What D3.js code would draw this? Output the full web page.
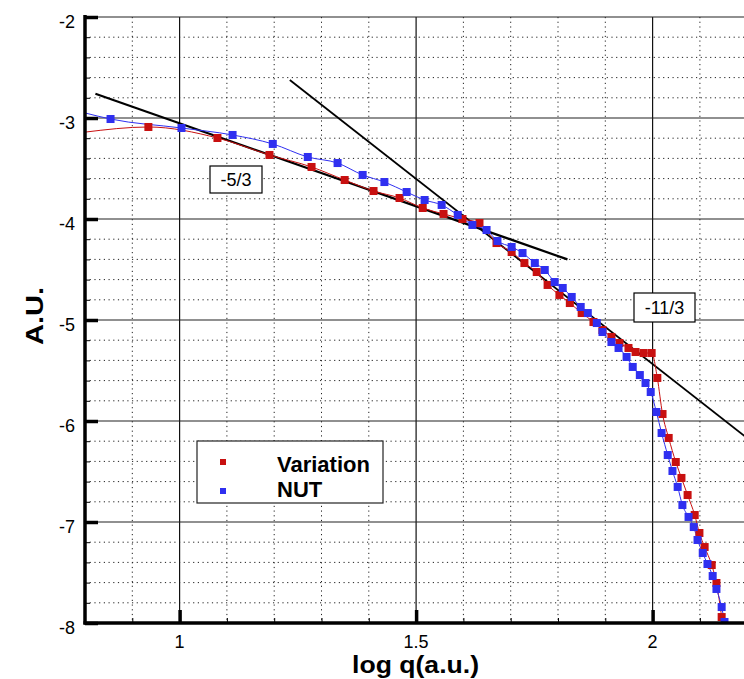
<!DOCTYPE html>
<html>
<head>
<meta charset="utf-8">
<script src="https://cdn.jsdelivr.net/npm/d3@7"></script>
<style>
  html, body { margin: 0; padding: 0; background: #fff; }
  svg { display: block; }
  text { font-family: "Liberation Sans", Arial, Helvetica, sans-serif; }
</style>
</head>
<body>
<svg id="chart" width="744" height="679"></svg>
<script>
// ---------------- data ----------------
const xMajorTicks = [1, 1.5, 2];
const xTickLabels = ["1", "1.5", "2"];
const yMajorTicks = [-8, -7, -6, -5, -4, -3, -2];
const yTickLabels = ["-8", "-7", "-6", "-5", "-4", "-3", "-2"];
const xMinorTicks = [0.9, 1.1, 1.2, 1.3, 1.4, 1.6, 1.7, 1.8, 1.9, 2.1];
const yMinorTicks = [-7.8, -7.6, -7.4, -7.2, -6.8, -6.6, -6.4, -6.2, -5.8, -5.6, -5.4, -5.2,
                     -4.8, -4.6, -4.4, -4.2, -3.8, -3.6, -3.4, -3.2, -2.8, -2.6, -2.4, -2.2];

const seriesNames = ["Variation", "NUT"];

// Variation (red)
const varCurveStart = [0.80, -3.14];
const varX = [0.934, 1.080, 1.190, 1.279, 1.349, 1.410, 1.465, 1.514, 1.558, 1.598, 1.634,
              1.670, 1.702, 1.729, 1.755, 1.778, 1.803, 1.825, 1.850, 1.875, 1.894, 1.913,
              1.930, 1.949, 1.964, 1.981, 1.998, 2.010, 2.021, 2.034, 2.049, 2.061, 2.074,
              2.089, 2.099, 2.110, 2.125, 2.135, 2.146];
const varY = [-3.089, -3.198, -3.366, -3.485, -3.614, -3.723, -3.792, -3.891, -3.950, -4.000, -4.040,
              -4.238, -4.327, -4.436, -4.525, -4.653, -4.752, -4.832, -4.931, -5.020, -5.099, -5.168,
              -5.228, -5.277, -5.317, -5.327, -5.327, -5.574, -5.931, -6.168, -6.406, -6.564, -6.733,
              -6.931, -7.109, -7.248, -7.426, -7.604, -7.941];

// NUT (blue)
const nutCurveStart = [0.80, -2.95];
const nutX = [0.854, 1.004, 1.112, 1.197, 1.271, 1.334, 1.387, 1.433, 1.480, 1.518, 1.554,
              1.588, 1.619, 1.649, 1.672, 1.702, 1.725, 1.751, 1.772, 1.793, 1.810, 1.829,
              1.848, 1.863, 1.882, 1.894, 1.913, 1.928, 1.945, 1.958, 1.973, 1.985, 1.996,
              2.008, 2.019, 2.032, 2.042, 2.053, 2.063, 2.076, 2.087, 2.095, 2.106, 2.116,
              2.127, 2.135, 2.146, 2.152];
const nutY = [-3.010, -3.099, -3.168, -3.257, -3.386, -3.446, -3.564, -3.634, -3.733, -3.812, -3.861,
              -3.960, -4.059, -4.109, -4.218, -4.277, -4.337, -4.436, -4.505, -4.624, -4.683, -4.772,
              -4.871, -4.931, -5.030, -5.119, -5.218, -5.277, -5.366, -5.465, -5.545, -5.624, -5.713,
              -5.911, -6.119, -6.337, -6.495, -6.653, -6.832, -6.950, -7.050, -7.178, -7.307, -7.416,
              -7.535, -7.663, -7.842, -7.990];

// slope reference lines
const slopeLineA = { label: "-5/3",  x: [0.822, 1.820], y: [-2.760, -4.400] };
const slopeLineB = { label: "-11/3", x: [1.233, 2.250], y: [-2.624, -6.353] };

// ---------------- drawing ----------------
const svg = d3.select("#chart");
const L = 85, T = 17, B = 623, R = 85 + 1.4 * 473;
const x = d3.scaleLinear().domain([0.8, 2.2]).range([L, R]);
const y = d3.scaleLinear().domain([-8, -2]).range([B, T]);

svg.append("defs").append("clipPath").attr("id", "plotclip")
  .append("rect").attr("x", L).attr("y", T - 1).attr("width", R - L).attr("height", B - T + 1);

const grid = svg.append("g");
// minor dotted grid
grid.selectAll("line.mx").data(xMinorTicks).join("line")
  .attr("x1", d => x(d)).attr("x2", d => x(d)).attr("y1", T).attr("y2", B)
  .attr("stroke", "#222").attr("stroke-width", 1).attr("stroke-dasharray", "1.2,3.5");
grid.selectAll("line.my").data(yMinorTicks).join("line")
  .attr("y1", d => y(d)).attr("y2", d => y(d)).attr("x1", L).attr("x2", R)
  .attr("stroke", "#222").attr("stroke-width", 1).attr("stroke-dasharray", "1.2,3.5");
// major grid
grid.selectAll("line.Mx").data(xMajorTicks).join("line")
  .attr("x1", d => x(d)).attr("x2", d => x(d)).attr("y1", T).attr("y2", B)
  .attr("stroke", "#111").attr("stroke-width", 1.2);
grid.selectAll("line.My").data(yMajorTicks).join("line")
  .attr("y1", d => y(d)).attr("y2", d => y(d)).attr("x1", L).attr("x2", R)
  .attr("stroke", "#222").attr("stroke-width", 1.2);

// axes: ticks inside
const yAxisMajor = d3.axisRight(y).tickValues(yMajorTicks).tickSize(13).tickFormat("");
const yAxisMinor = d3.axisRight(y).tickValues(yMinorTicks).tickSize(5).tickFormat("");
const xAxisMajor = d3.axisTop(x).tickValues(xMajorTicks).tickSize(13).tickFormat("");
const xAxisMinor = d3.axisTop(x).tickValues(xMinorTicks).tickSize(5).tickFormat("");

const gyM = svg.append("g").attr("transform", `translate(${L},0)`).call(yAxisMajor);
gyM.selectAll(".tick line").attr("stroke", "#000").attr("stroke-width", 3.5);
gyM.select(".domain").remove();
const gym = svg.append("g").attr("transform", `translate(${L},0)`).call(yAxisMinor);
gym.selectAll(".tick line").attr("stroke", "#000").attr("stroke-width", 1);
gym.select(".domain").remove();
const gxM = svg.append("g").attr("transform", `translate(0,${B})`).call(xAxisMajor);
gxM.selectAll(".tick line").attr("stroke", "#000").attr("stroke-width", 3.5);
gxM.select(".domain").remove();
const gxm = svg.append("g").attr("transform", `translate(0,${B})`).call(xAxisMinor);
gxm.selectAll(".tick line").attr("stroke", "#000").attr("stroke-width", 1);
gxm.select(".domain").remove();

// tick labels
svg.append("g").selectAll("text").data(yMajorTicks).join("text")
  .attr("x", 75).attr("y", d => y(d) + 11)
  .attr("text-anchor", "end").attr("font-size", 18).attr("fill", "#000")
  .text((d, i) => yTickLabels[i]);
svg.append("g").selectAll("text").data(xMajorTicks).join("text")
  .attr("x", d => x(d)).attr("y", 648)
  .attr("text-anchor", "middle").attr("font-size", 18).attr("fill", "#000")
  .text((d, i) => xTickLabels[i]);

// axis titles
svg.append("text").attr("x", 352).attr("y", 673)
  .attr("textLength", 127).attr("lengthAdjust", "spacingAndGlyphs")
  .attr("font-size", 23).attr("font-weight", "bold").text("log q(a.u.)");
svg.append("text").attr("transform", "translate(43,345) rotate(-90)")
  .attr("textLength", 58).attr("lengthAdjust", "spacingAndGlyphs")
  .attr("font-size", 23).attr("font-weight", "bold").text("A.U.");

// plot contents
const plot = svg.append("g").attr("clip-path", "url(#plotclip)");

// slope lines
[slopeLineA, slopeLineB].forEach((s, i) => {
  plot.append("line")
    .attr("x1", x(s.x[0])).attr("y1", y(s.y[0]))
    .attr("x2", x(s.x[1])).attr("y2", y(s.y[1]))
    .attr("stroke", "#000").attr("stroke-width", i === 0 ? 2.2 : 1.8);
});

const redC = "#c81010", blueC = "#2f2ff0";
const series = [
  { start: varCurveStart, xs: varX, ys: varY, color: redC },
  { start: nutCurveStart, xs: nutX, ys: nutY, color: blueC }
];
const lineGen = d3.line().x(d => x(d[0])).y(d => y(d[1])).curve(d3.curveMonotoneX);
series.forEach(s => {
  const pts = [s.start].concat(s.xs.map((v, i) => [v, s.ys[i]]));
  plot.append("path").datum(pts).attr("d", lineGen)
    .attr("fill", "none").attr("stroke", s.color).attr("stroke-width", 1);
});
series.forEach(s => {
  const pts = s.xs.map((v, i) => [v, s.ys[i]]);
  plot.append("g").selectAll("rect").data(pts).join("rect")
    .attr("x", d => x(d[0]) - 4).attr("y", d => y(d[1]) - 4)
    .attr("width", 8).attr("height", 8).attr("fill", s.color);
});

// slope labels
function labelBox(px, py, txt, w, h) {
  const g = svg.append("g");
  g.append("rect").attr("x", px).attr("y", py).attr("width", w).attr("height", h)
    .attr("fill", "#fff").attr("stroke", "#000").attr("stroke-width", 1.2);
  g.append("text").attr("x", px + w / 2).attr("y", py + h / 2 + 6.5).attr("text-anchor", "middle")
    .attr("font-size", 18).attr("fill", "#000").text(txt);
}
labelBox(210, 166, slopeLineA.label, 52, 27);
labelBox(634, 293, slopeLineB.label, 61, 29);

// axis lines (thick)
svg.append("line").attr("x1", L).attr("x2", L).attr("y1", T - 2).attr("y2", B + 1.5)
  .attr("stroke", "#000").attr("stroke-width", 3.5);
svg.append("line").attr("x1", L - 1.5).attr("x2", R).attr("y1", B).attr("y2", B)
  .attr("stroke", "#000").attr("stroke-width", 3.5);

// legend
const lg = svg.append("g");
lg.append("rect").attr("x", 197).attr("y", 441).attr("width", 186).attr("height", 62)
  .attr("fill", "#fff").attr("stroke", "#222").attr("stroke-width", 1.2);
[redC, blueC].forEach((c, i) => {
  lg.append("rect").attr("x", 220).attr("y", 459 + i * 29).attr("width", 6).attr("height", 6).attr("fill", c);
  lg.append("text").attr("x", 277).attr("y", 472 + i * 25).attr("font-size", 22)
    .attr("font-weight", "bold").text(seriesNames[i]);
});
</script>
</body>
</html>
